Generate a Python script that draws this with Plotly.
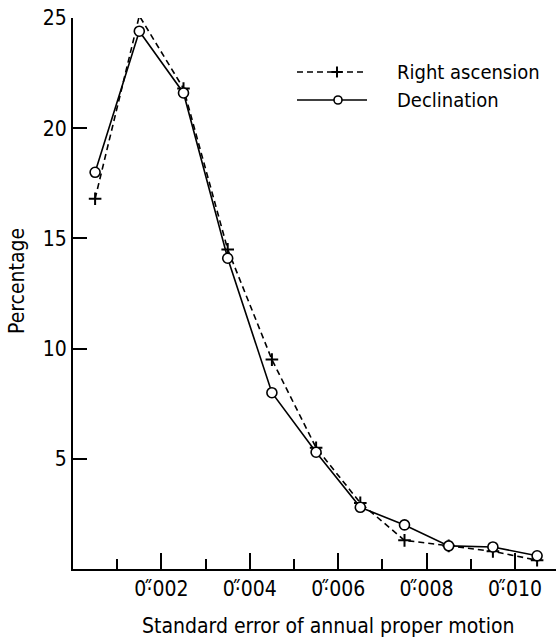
import plotly.graph_objects as go

# bin midpoints (arc-seconds per year)
x_mid = [0.0005, 0.0015, 0.0025, 0.0035, 0.0045, 0.0055, 0.0065, 0.0075, 0.0085, 0.0095, 0.0105]
right_ascension = [16.8, 25.1, 21.8, 14.5, 9.5, 5.5, 3.0, 1.3, 1.05, 0.8, 0.4]
declination = [18.0, 24.4, 21.6, 14.1, 8.0, 5.3, 2.8, 2.0, 1.05, 1.0, 0.6]

x_tickvals = [0.002, 0.004, 0.006, 0.008, 0.010]
x_ticktext = ["0\u00b7\u030b002", "0\u00b7\u030b004", "0\u00b7\u030b006", "0\u00b7\u030b008", "0\u00b7\u030b010"]
y_tickvals = [5, 10, 15, 20, 25]
series_names = ["Right ascension", "Declination"]
x_title = "Standard error of annual proper motion"
y_title = "Percentage"

FONT = "DejaVu Sans Condensed, DejaVu Sans, sans-serif"

# body margin removed below, so the figure fills the page exactly
W, H = 556, 638
ML, MT, MB, MR = 73, 18, 69, 0
PW, PH = W - ML - MR, H - MT - MB

fig = go.Figure()
fig.add_trace(go.Scatter(
    x=x_mid, y=right_ascension, name=series_names[0], mode="lines+markers",
    line=dict(color="black", width=1.6, dash="6px,4px"),
    marker=dict(symbol="cross-thin", size=9, line=dict(color="black", width=2)),
    cliponaxis=False, showlegend=False,
))
fig.add_trace(go.Scatter(
    x=x_mid, y=declination, name=series_names[1], mode="lines+markers",
    line=dict(color="black", width=1.6),
    marker=dict(symbol="circle", size=10, color="white", line=dict(color="black", width=1.6)),
    cliponaxis=False, showlegend=False,
))

# hand-drawn legend on an overlay axis measured in pixels of the plot area
leg_x0, leg_x1 = 224, 294          # sample line extent (px from plot left)
leg_rows = [PH - (72 - MT), PH - (100 - MT)]   # px from plot bottom
fig.add_trace(go.Scatter(
    x=[leg_x0, leg_x1], y=[leg_rows[0]] * 2, mode="lines", xaxis="x2", yaxis="y2",
    line=dict(color="black", width=1.6, dash="6px,4px"), showlegend=False, hoverinfo="skip"))
fig.add_trace(go.Scatter(
    x=[264], y=[leg_rows[0]], mode="markers", xaxis="x2", yaxis="y2",
    marker=dict(symbol="cross-thin", size=8, line=dict(color="black", width=2)),
    showlegend=False, hoverinfo="skip"))
fig.add_trace(go.Scatter(
    x=[leg_x0, leg_x1], y=[leg_rows[1]] * 2, mode="lines", xaxis="x2", yaxis="y2",
    line=dict(color="black", width=1.6), showlegend=False, hoverinfo="skip"))
fig.add_trace(go.Scatter(
    x=[265], y=[leg_rows[1]], mode="markers", xaxis="x2", yaxis="y2",
    marker=dict(symbol="circle", size=8, color="white", line=dict(color="black", width=1.6)),
    showlegend=False, hoverinfo="skip"))
for name, yy in zip(series_names, leg_rows):
    fig.add_annotation(x=322, y=yy, xref="x2", yref="y2", text=name, showarrow=False,
                       xanchor="left", yanchor="middle", font=dict(size=20))

# axis titles as annotations for exact placement
fig.add_annotation(x=(328 - ML) / PW, y=0, xref="paper", yref="paper", yshift=-57,
                   text=x_title, showarrow=False, xanchor="center", yanchor="middle",
                   font=dict(size=21))
fig.add_annotation(x=0, y=(569 - 281) / PH, xref="paper", yref="paper", xshift=-56,
                   text=y_title, showarrow=False, xanchor="center", yanchor="middle",
                   textangle=-90, font=dict(size=21))

fig.update_layout(
    width=W, height=H,
    margin=dict(l=ML, r=MR, t=MT, b=MB),
    paper_bgcolor="white", plot_bgcolor="white",
    font=dict(family=FONT, size=21, color="black"),
    showlegend=False,
    xaxis2=dict(overlaying="x", range=[0, PW], visible=False, fixedrange=True),
    yaxis2=dict(overlaying="y", range=[0, PH], visible=False, fixedrange=True),
)
fig.update_layout(xaxis=dict(
    range=[0, PW / 44200.0], showline=True, linecolor="black", linewidth=2,
    showgrid=False, zeroline=False, automargin=False, ticklabeloverflow="allow",
    tickvals=x_tickvals, ticktext=x_ticktext, ticks="inside", ticklen=16,
    tickwidth=1.5, tickcolor="black", tickfont=dict(size=21),
    minor=dict(dtick=0.001, tick0=0, ticks="inside", ticklen=10, tickwidth=1.5, tickcolor="black"),
))
fig.update_layout(yaxis=dict(
    range=[0, 25], showline=True, linecolor="black", linewidth=2,
    showgrid=False, zeroline=False, automargin=False, ticklabeloverflow="allow",
    tickvals=y_tickvals, ticks="inside", ticklen=14, tickwidth=1.5, tickcolor="black",
    tickfont=dict(size=21),
))

fig.write_html("out.html", config={"displayModeBar": False},
               post_script="document.body.style.margin='0px';document.body.style.overflow='hidden';")
